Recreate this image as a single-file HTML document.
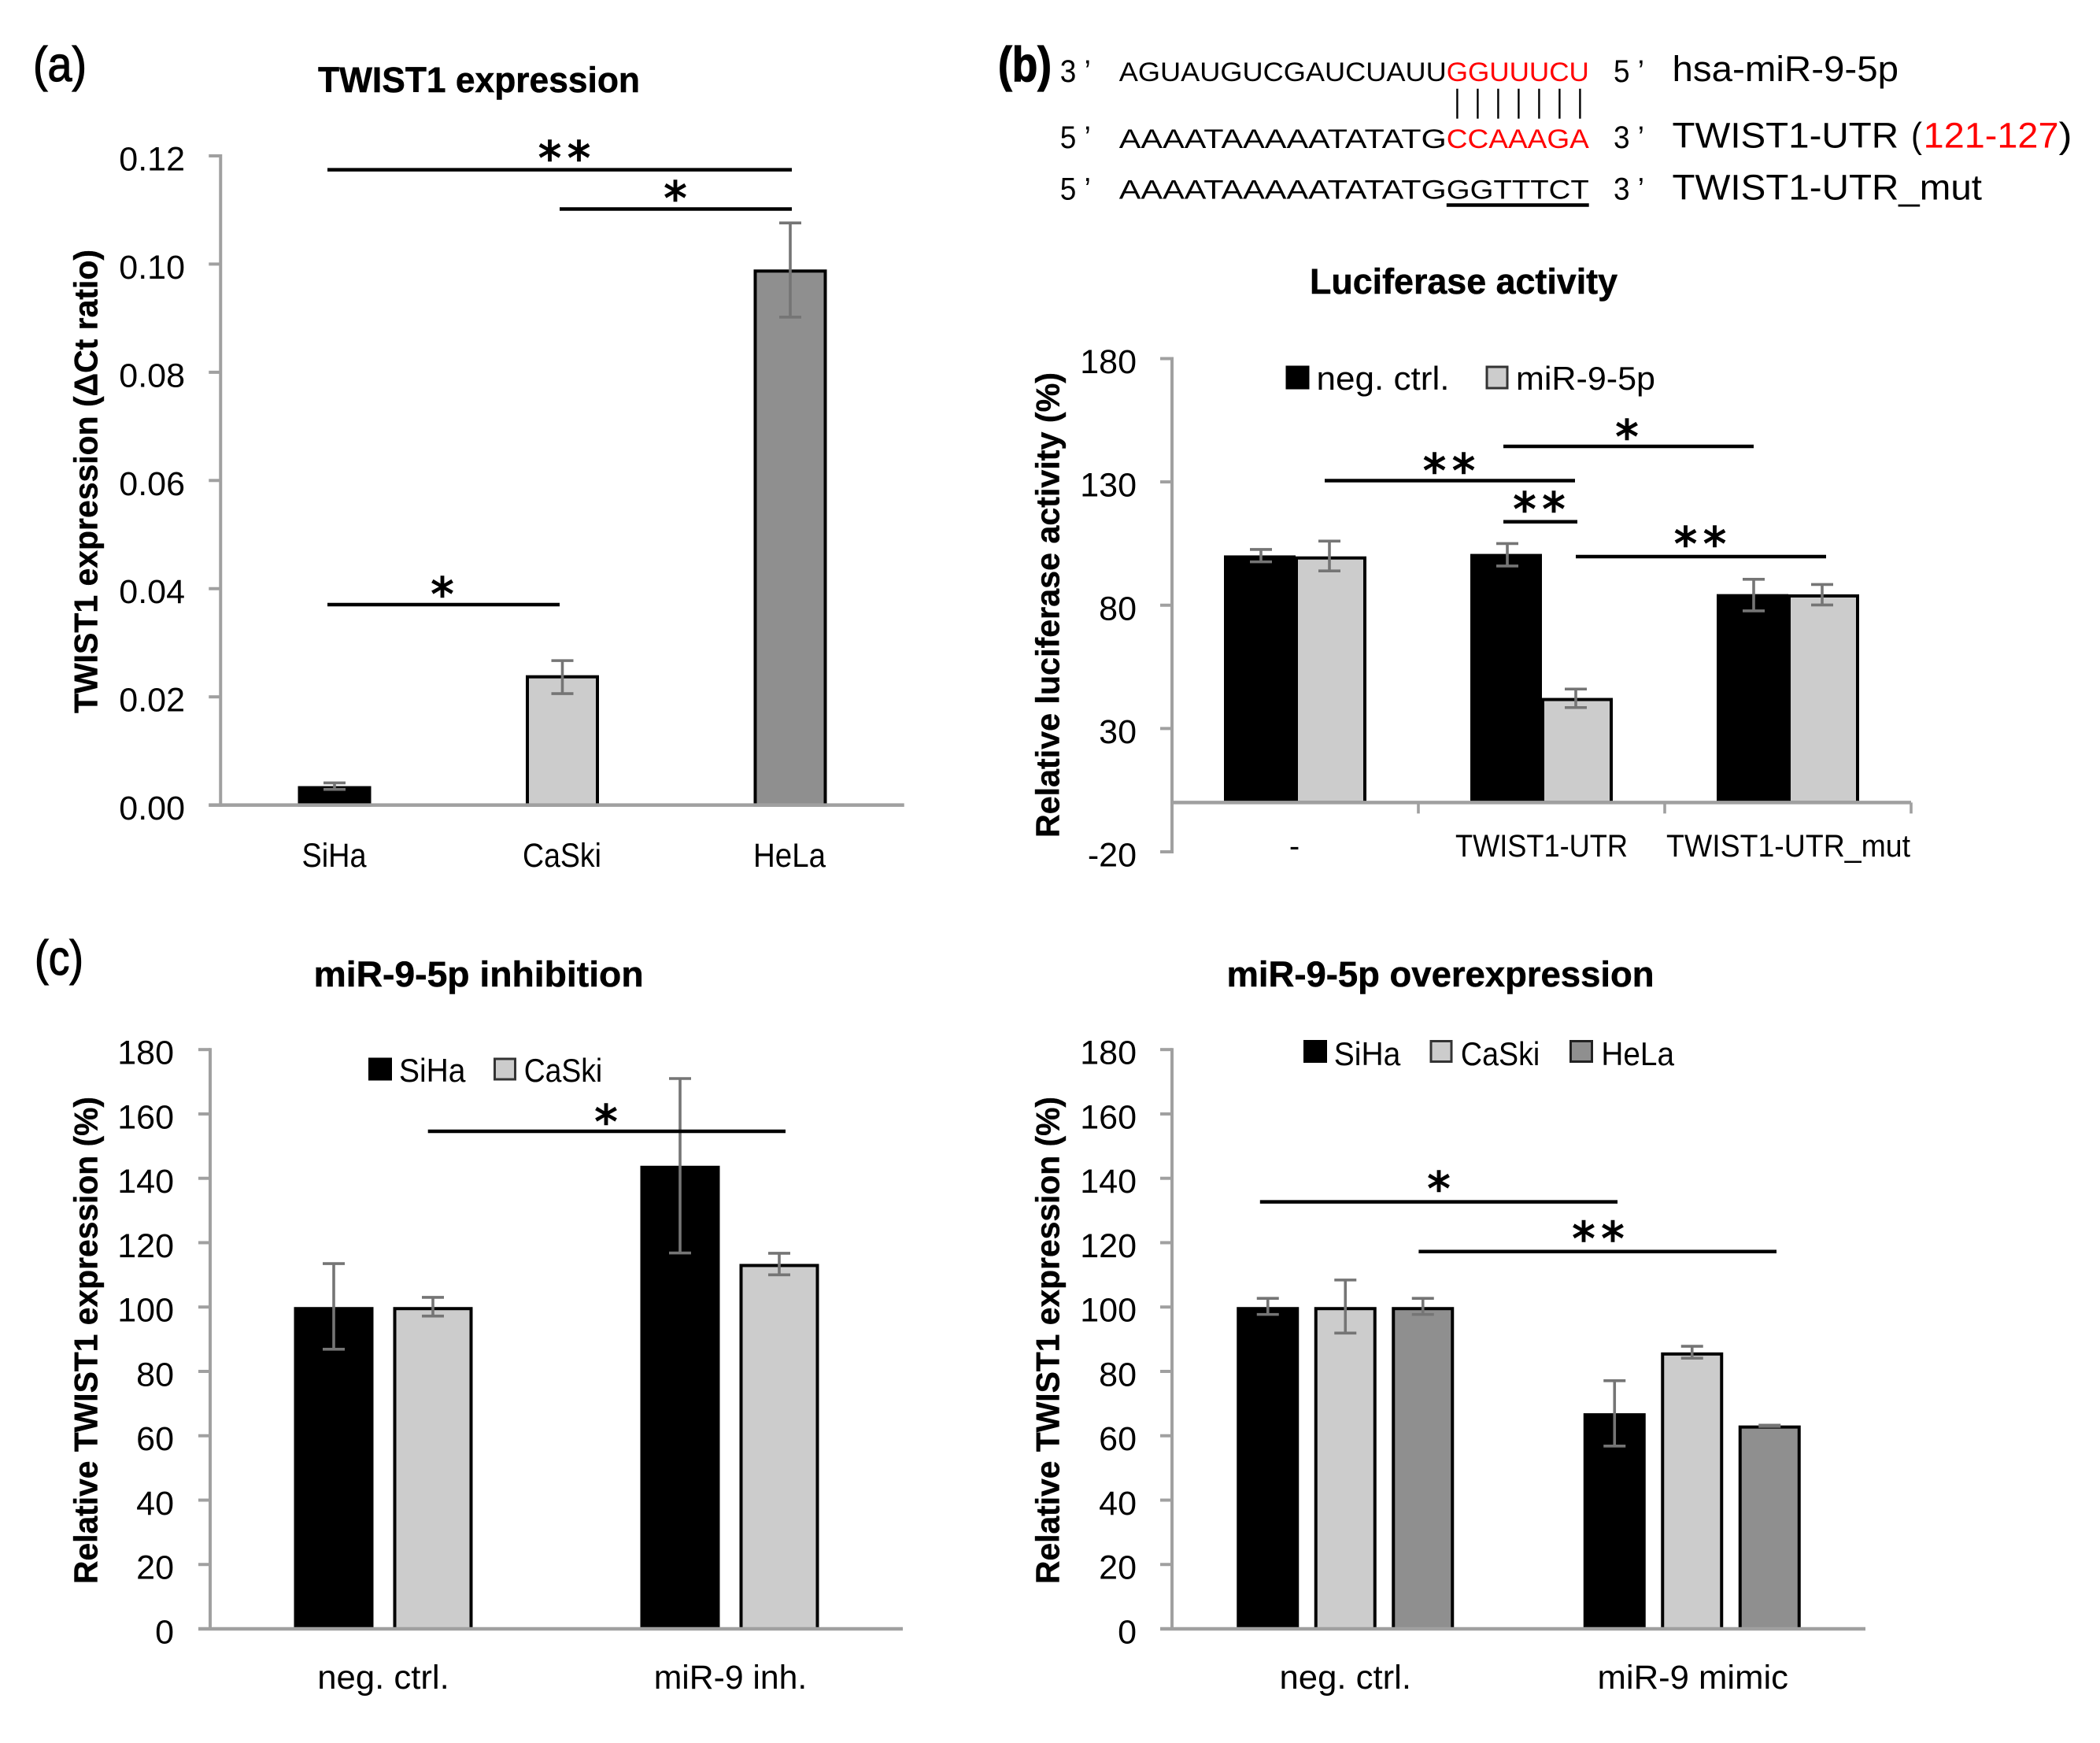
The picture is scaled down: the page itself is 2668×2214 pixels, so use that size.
<!DOCTYPE html>
<html lang="en">
<head>
<meta charset="utf-8">
<title>TWIST1 expression figure</title>
<style>
html,body{margin:0;padding:0;background:#fff;}
svg{display:block;}
text{font-family:"Liberation Sans",sans-serif;fill:#000;}
.b{font-weight:bold;}
.ttl{font-weight:bold;font-size:45px;stroke:#000;stroke-width:.5px;}
.yt{font-weight:bold;font-size:42px;stroke:#000;stroke-width:.4px;}
.pl{font-size:62px;stroke:#000;stroke-width:1.2px;}
.star{font-family:"DejaVu Sans",sans-serif;font-size:58px;text-anchor:middle;stroke:#000;stroke-width:1.6px;}
.seq{font-size:34px;}
.pr{font-size:40px;}
.lab{font-size:45px;}
.red{fill:#f00;}
.leg{font-size:42px;}
.sig{stroke:#000;stroke-width:4.5;}
</style>
</head>
<body>
<svg id="fig" xmlns="http://www.w3.org/2000/svg" width="2668" height="2214" viewBox="0 0 2668 2214">
<rect width="2668" height="2214" fill="#fff"/>

<g id="panels"></g>

<!-- panel letters and titles -->
<text x="42" y="103" class="pl" textLength="68" lengthAdjust="spacingAndGlyphs">(a)</text>
<text x="1268" y="103" class="pl b" textLength="68" lengthAdjust="spacingAndGlyphs">(b)</text>
<text x="44" y="1238" class="pl" textLength="62" lengthAdjust="spacingAndGlyphs">(c)</text>
<text x="404" y="117" class="ttl" textLength="409" lengthAdjust="spacingAndGlyphs">TWIST1 expression</text>
<text x="1664" y="373" class="ttl" textLength="391" lengthAdjust="spacingAndGlyphs">Luciferase activity</text>
<text x="398.6" y="1253" class="ttl" textLength="419" lengthAdjust="spacingAndGlyphs">miR-9-5p inhibition</text>
<text x="1558.5" y="1253" class="ttl" textLength="543" lengthAdjust="spacingAndGlyphs">miR-9-5p overexpression</text>

<!-- y axis titles -->
<text transform="translate(123.5,906) rotate(-90)" class="yt" textLength="589" lengthAdjust="spacingAndGlyphs">TWIST1 expression (ΔCt ratio)</text>
<text transform="translate(1345.7,1064) rotate(-90)" class="yt" textLength="591" lengthAdjust="spacingAndGlyphs">Relative luciferase activity (%)</text>
<text transform="translate(123.6,2012) rotate(-90)" class="yt" textLength="619" lengthAdjust="spacingAndGlyphs">Relative TWIST1 expression (%)</text>
<text transform="translate(1345.7,2012) rotate(-90)" class="yt" textLength="619" lengthAdjust="spacingAndGlyphs">Relative TWIST1 expression (%)</text>

<!-- sequence alignment -->
<g>
<text class="pr" x="1346.8" y="104" textLength="39" lengthAdjust="spacingAndGlyphs">3 ’</text>
<text class="seq" x="1421.8" y="103" textLength="416" lengthAdjust="spacingAndGlyphs">AGUAUGUCGAUCUAUU</text>
<text class="seq red" x="1837.8" y="103" textLength="181" lengthAdjust="spacingAndGlyphs">GGUUUCU</text>
<text class="pr" x="2050" y="104" textLength="39" lengthAdjust="spacingAndGlyphs">5 ’</text>
<text class="lab" x="2124.5" y="103" textLength="287.5" lengthAdjust="spacingAndGlyphs">hsa-miR-9-5p</text>

<g stroke="#000" stroke-width="2.4">
<line x1="1851.4" x2="1851.4" y1="112.7" y2="150.7"/>
<line x1="1877.4" x2="1877.4" y1="112.7" y2="150.7"/>
<line x1="1903.4" x2="1903.4" y1="112.7" y2="150.7"/>
<line x1="1929.4" x2="1929.4" y1="112.7" y2="150.7"/>
<line x1="1955.4" x2="1955.4" y1="112.7" y2="150.7"/>
<line x1="1981.4" x2="1981.4" y1="112.7" y2="150.7"/>
<line x1="2007.4" x2="2007.4" y1="112.7" y2="150.7"/>
</g>

<text class="pr" x="1346.8" y="188" textLength="39" lengthAdjust="spacingAndGlyphs">5 ’</text>
<text class="seq" x="1421.8" y="188" textLength="416" lengthAdjust="spacingAndGlyphs">AAAATAAAAATATATG</text>
<text class="seq red" x="1837.8" y="188" textLength="181" lengthAdjust="spacingAndGlyphs">CCAAAGA</text>
<text class="pr" x="2050" y="188" textLength="39" lengthAdjust="spacingAndGlyphs">3 ’</text>
<text class="lab" x="2124.5" y="187.7" textLength="287.5" lengthAdjust="spacingAndGlyphs">TWIST1-UTR</text>
<text class="lab" x="2428" y="187.7" textLength="14" lengthAdjust="spacingAndGlyphs">(</text>
<text class="lab red" x="2443.7" y="187.7" textLength="171.8" lengthAdjust="spacingAndGlyphs">121-127</text>
<text class="lab" x="2615.5" y="187.7" textLength="17" lengthAdjust="spacingAndGlyphs">)</text>

<text class="pr" x="1346.8" y="253.5" textLength="39" lengthAdjust="spacingAndGlyphs">5 ’</text>
<text class="seq" x="1421.8" y="252.5" textLength="416" lengthAdjust="spacingAndGlyphs">AAAATAAAAATATATG</text>
<text class="seq" x="1837.8" y="252.5" textLength="181" lengthAdjust="spacingAndGlyphs">GGTTTCT</text>
<line x1="1837.8" x2="2018.7" y1="260.5" y2="260.5" stroke="#000" stroke-width="4.5"/>
<text class="pr" x="2050" y="253.5" textLength="39" lengthAdjust="spacingAndGlyphs">3 ’</text>
<text class="lab" x="2124.5" y="253.3" textLength="393.5" lengthAdjust="spacingAndGlyphs">TWIST1-UTR_mut</text>
</g>

<!-- legends -->
<g>
<rect x="1635" y="466" width="27" height="27" fill="#000" stroke="#000" stroke-width="3"/>
<text class="leg" x="1672.5" y="495" textLength="169" lengthAdjust="spacingAndGlyphs">neg. ctrl.</text>
<rect x="1889" y="466" width="26" height="27" fill="#ccc" stroke="#333" stroke-width="3"/>
<text class="leg" x="1926" y="495" textLength="177" lengthAdjust="spacingAndGlyphs">miR-9-5p</text>
</g>
<g>
<rect x="469.5" y="1345" width="27" height="26" fill="#000" stroke="#000" stroke-width="3"/>
<text class="leg" x="507" y="1374" textLength="84.5" lengthAdjust="spacingAndGlyphs">SiHa</text>
<rect x="628.5" y="1345" width="26" height="26" fill="#ccc" stroke="#333" stroke-width="3"/>
<text class="leg" x="665.7" y="1374" textLength="99.5" lengthAdjust="spacingAndGlyphs">CaSki</text>
</g>
<g>
<rect x="1657.5" y="1322.5" width="27" height="26" fill="#000" stroke="#000" stroke-width="3"/>
<text class="leg" x="1694.8" y="1353" textLength="84.5" lengthAdjust="spacingAndGlyphs">SiHa</text>
<rect x="1818" y="1322.5" width="26" height="26" fill="#ccc" stroke="#333" stroke-width="3"/>
<text class="leg" x="1855.9" y="1353" textLength="100.4" lengthAdjust="spacingAndGlyphs">CaSki</text>
<rect x="1995.5" y="1322.5" width="27" height="26" fill="#8f8f8f" stroke="#222" stroke-width="3"/>
<text class="leg" x="2034.4" y="1353" textLength="92.6" lengthAdjust="spacingAndGlyphs">HeLa</text>
</g>

<!-- significance annotations -->
<g>
<line class="sig" x1="416" x2="1006" y1="215.6" y2="215.6"/>
<text class="star" x="717" y="221" textLength="66" lengthAdjust="spacing">**</text>
<line class="sig" x1="711" x2="1006" y1="265.5" y2="265.5"/>
<text class="star" x="858" y="272">*</text>
<line class="sig" x1="416" x2="711" y1="768" y2="768"/>
<text class="star" x="562" y="775">*</text>
</g>
<g>
<line class="sig" x1="1910" x2="2228" y1="567" y2="567"/>
<text class="star" x="2067" y="575">*</text>
<line class="sig" x1="1683" x2="2001" y1="610.5" y2="610.5"/>
<text class="star" x="1841" y="618" textLength="66" lengthAdjust="spacing">**</text>
<line class="sig" x1="1910" x2="2004" y1="662.7" y2="662.7"/>
<text class="star" x="1955.5" y="667" textLength="66" lengthAdjust="spacing">**</text>
<line class="sig" x1="2002" x2="2320" y1="707" y2="707"/>
<text class="star" x="2160" y="711" textLength="66" lengthAdjust="spacing">**</text>
</g>
<g>
<line class="sig" x1="543.7" x2="998" y1="1437" y2="1437"/>
<text class="star" x="770" y="1445">*</text>
</g>
<g>
<line class="sig" x1="1600.8" x2="2055" y1="1526.6" y2="1526.6"/>
<text class="star" x="1828" y="1530">*</text>
<line class="sig" x1="1802.4" x2="2257" y1="1589.7" y2="1589.7"/>
<text class="star" x="2030.5" y="1593.6" textLength="66" lengthAdjust="spacing">**</text>
</g>
</svg>

<script>
// ---------- Panel (a) data ----------
const aCategories = ['SiHa', 'CaSki', 'HeLa'];
const aValues = [0.0035, 0.024, 0.099];
const aErrHigh = [0.0041, 0.0267, 0.1076];
const aErrLow = [0.0029, 0.0206, 0.0902];
const aTicks = ['0.00', '0.02', '0.04', '0.06', '0.08', '0.10', '0.12'];

// ---------- Panel (b) data ----------
const bCategories = ['-', 'TWIST1-UTR', 'TWIST1-UTR_mut'];
const bNegCtrl = [100.2, 100.8, 84.5];
const bNegCtrlHigh = [102.6, 105, 90.5];
const bNegCtrlLow = [97.6, 95.9, 77.7];
const bMir = [99.8, 42.4, 84.4];
const bMirHigh = [106, 46, 88.4];
const bMirLow = [93.9, 38.5, 80.1];
const bTicks = ['-20', '30', '80', '130', '180'];

// ---------- Panel (c) inhibition data ----------
const cCategories = ['neg. ctrl.', 'miR-9 inh.'];
const cSiha = [100, 143.9];
const cSihaHigh = [113.5, 171];
const cSihaLow = [86.9, 116.8];
const cCaski = [100, 113.4];
const cCaskiHigh = [103, 116.7];
const cCaskiLow = [97.2, 110];
const cTicks = ['0', '20', '40', '60', '80', '100', '120', '140', '160', '180'];

// ---------- Panel (c) overexpression data ----------
const dCategories = ['neg. ctrl.', 'miR-9 mimic'];
const dSiha = [100, 67];
const dSihaHigh = [102.7, 77.1];
const dSihaLow = [97.7, 56.8];
const dCaski = [100, 85.9];
const dCaskiHigh = [108.4, 87.8];
const dCaskiLow = [91.9, 84.1];
const dHela = [100, 63.2];
const dHelaHigh = [102.7, 63.3];
const dHelaLow = [97.7, 62.9];
const dTicks = ['0', '20', '40', '60', '80', '100', '120', '140', '160', '180'];

const NS = 'http://www.w3.org/2000/svg';
const AXIS = '#a0a0a0';
const ERR = '#757575';
const root = document.getElementById('panels');

function make(parent, tag, props, content) {
  const n = document.createElementNS(NS, tag);
  for (const k in props) n.setAttribute(k, props[k]);
  if (content !== undefined) n.textContent = content;
  parent.appendChild(n);
  return n;
}

function drawPanel(cfg) {
  const g = make(root, 'g', {});
  
  

  const yS = v => cfg.yBottom - (v - cfg.yMin) / (cfg.yMax - cfg.yMin) * (cfg.yBottom - cfg.yTop);
  const band = (cfg.xRight - cfg.xLeft) / cfg.categories.length;
  const xC = i => cfg.xLeft + band * (i + 0.5);
  const n = cfg.series.length;

  // bars
  cfg.series.forEach((s, si) => {
    s.values.forEach((v, i) => {
      const cx = xC(i) + (si - (n - 1) / 2) * cfg.step;
      const bar = make(g, 'rect', {
        x: cx - cfg.barW / 2 + 2,
        y: yS(v) + 2,
        width: cfg.barW - 4,
        height: Math.max(0, yS(0) - yS(v) - 2),
        fill: Array.isArray(s.fill) ? s.fill[i] : s.fill,
        stroke: '#000', 'stroke-width': 4
      });
      
      
    });
  });
  // error bars
  cfg.series.forEach((s, si) => {
    s.values.forEach((v, i) => {
      const cx = xC(i) + (si - (n - 1) / 2) * cfg.step + (cfg.errShift || 0) * (si === 0 ? -1 : 1);
      const hi = yS(s.high[i]), lo = yS(s.low[i]);
      const eb = make(g, 'path', {
        d: 'M' + (cx - 14) + ' ' + hi + 'H' + (cx + 14) + 'M' + cx + ' ' + hi + 'V' + lo + 'M' + (cx - 14) + ' ' + lo + 'H' + (cx + 14),
        fill: 'none', stroke: ERR, 'stroke-width': 3.6
      });
      
      
    });
  });

  // y axis
  const yAxis = make(g, 'line', { x1: cfg.xLeft, x2: cfg.xLeft, y1: cfg.yTop - 2, y2: cfg.yBottom + 2, stroke: AXIS, 'stroke-width': 4 });
  
  
  cfg.ticks.forEach(label => {
    const y = yS(Number(label));
    const tk = make(g, 'line', { x1: cfg.xLeft - 15, x2: cfg.xLeft, y1: y, y2: y, stroke: AXIS, 'stroke-width': 4 });
    
    
    const tl = make(g, 'text', { x: cfg.tickRight, y: y + 18.5, 'text-anchor': 'end', 'font-size': 43 }, label);
    
    
  });

  // x axis
  const xAxis = make(g, 'line', { x1: cfg.xLeft - (cfg.xTicks ? 0 : 15), x2: cfg.xRight, y1: yS(0), y2: yS(0), stroke: AXIS, 'stroke-width': 4.5 });
  
  

  cfg.categories.forEach((c, i) => {
    if (cfg.xTicks) {
      const xt = cfg.xLeft + band * (i + 1);
      const tk = make(g, 'line', { x1: xt, x2: xt, y1: yS(0), y2: yS(0) + 14, stroke: AXIS, 'stroke-width': 3.6 });
      
      
    }
    const w = cfg.labelWidths[i];
    const props = { x: xC(i) + cfg.labelShift[i], y: cfg.labelY, 'text-anchor': 'middle', 'font-size': cfg.labelSize };
    if (w) { props.textLength = w; props.lengthAdjust = 'spacingAndGlyphs'; }
    const t = make(g, 'text', props, c);
    
    
  });
}

drawPanel({
  id: 'twist1-expression', categories: aCategories,
  series: [
    { name: 'expression', values: aValues, high: aErrHigh, low: aErrLow, fill: ['#000', '#ccc', '#8f8f8f'] }
  ],
  ticks: aTicks, yMin: 0, yMax: 0.12, yTop: 198, yBottom: 1022.6,
  xLeft: 280.25, xRight: 1148.75, barW: 93, step: 0, tickRight: 235,
  labelY: 1101, labelSize: 43, labelWidths: [82, 100, 92], labelShift: [-0.5, -0.5, -1]
});

drawPanel({
  id: 'luciferase-activity', categories: bCategories,
  series: [
    { name: 'neg-ctrl', values: bNegCtrl, high: bNegCtrlHigh, low: bNegCtrlLow, fill: '#000' },
    { name: 'mir-9-5p', values: bMir, high: bMirHigh, low: bMirLow, fill: '#ccc' }
  ],
  ticks: bTicks, yMin: -20, yMax: 180, yTop: 455.5, yBottom: 1082,
  xLeft: 1489, xRight: 2428, barW: 91, step: 90, errShift: -1.5, tickRight: 1444, xTicks: true,
  labelY: 1088, labelSize: 40, labelWidths: [0, 219, 310], labelShift: [-1, 0, 0.5]
});

drawPanel({
  id: 'mir-inhibition', categories: cCategories,
  series: [
    { name: 'siha', values: cSiha, high: cSihaHigh, low: cSihaLow, fill: '#000' },
    { name: 'caski', values: cCaski, high: cCaskiHigh, low: cCaskiLow, fill: '#ccc' }
  ],
  ticks: cTicks, yMin: 0, yMax: 180, yTop: 1333.2, yBottom: 2069,
  xLeft: 267, xRight: 1147, barW: 101, step: 126, tickRight: 221,
  labelY: 2145, labelSize: 43, labelWidths: [167.5, 194.5], labelShift: [0, 1]
});

drawPanel({
  id: 'mir-overexpression', categories: dCategories,
  series: [
    { name: 'siha', values: dSiha, high: dSihaHigh, low: dSihaLow, fill: '#000' },
    { name: 'caski', values: dCaski, high: dCaskiHigh, low: dCaskiLow, fill: '#ccc' },
    { name: 'hela', values: dHela, high: dHelaHigh, low: dHelaLow, fill: '#8f8f8f' }
  ],
  ticks: dTicks, yMin: 0, yMax: 180, yTop: 1333.2, yBottom: 2069,
  xLeft: 1489, xRight: 2370, barW: 79, step: 98.5, tickRight: 1444,
  labelY: 2145, labelSize: 43, labelWidths: [167.5, 242.5], labelShift: [0, 1]
});
</script>
</body>
</html>
